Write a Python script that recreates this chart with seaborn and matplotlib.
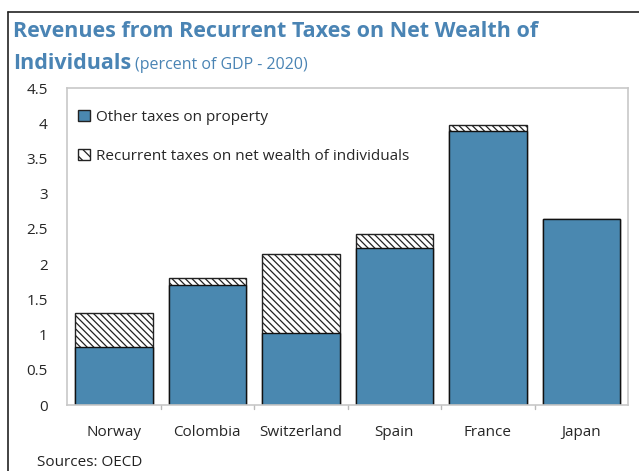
import matplotlib
matplotlib.use("Agg")
import matplotlib.pyplot as plt
import seaborn as sns
import pandas as pd
from matplotlib.patches import Patch
from matplotlib.lines import Line2D

# data (percent of GDP, 2020)
countries = ["Norway", "Colombia", "Switzerland", "Spain", "France", "Japan"]
other_taxes = [0.83, 1.71, 1.03, 2.23, 3.89, 2.64]
wealth_taxes = [0.47, 0.10, 1.12, 0.20, 0.09, 0.0]
yticks = [0, 0.5, 1, 1.5, 2, 2.5, 3, 3.5, 4, 4.5]

blue = "#4a88b0"
title_col = "#4a84b4"

df = pd.DataFrame({"country": countries, "other": other_taxes, "wealth": wealth_taxes})
df["total"] = df["other"] + df["wealth"]

sns.set_style("white")
plt.rcParams["font.family"] = ["Open Sans", "DejaVu Sans"]
plt.rcParams["hatch.linewidth"] = 0.9

fig = plt.figure(figsize=(6.39, 4.71), dpi=100)
ax = fig.add_axes([0.105, 0.140, 0.878, 0.673])

# stacked bars: hatched total behind, blue "other" in front
sns.barplot(data=df, x="country", y="total", color="white", edgecolor="#222222",
            linewidth=1.0, hatch="\\\\\\\\\\", width=0.83, ax=ax, saturation=1)
sns.barplot(data=df, x="country", y="other", color=blue, edgecolor="#111111",
            linewidth=1.0, width=0.83, ax=ax, saturation=1)

ax.set_ylim(0, 4.5)
ax.set_xlim(-0.5, 5.5)
ax.set_yticks(yticks)
ax.set_yticklabels([f"{t:g}" for t in yticks], fontsize=11)
ax.set_xlabel("")
ax.set_ylabel("")
ax.tick_params(axis="x", labelsize=11, length=0, pad=14)
ax.tick_params(axis="y", direction="in", length=5, color="#bbbbbb", width=1, pad=14)
for s in ax.spines.values():
    s.set_color("#c8c8c8")
    s.set_linewidth(1.2)
# small ticks between categories
for xb in [0.5, 1.5, 2.5, 3.5, 4.5]:
    ax.plot([xb, xb], [0, -0.06], color="#bbbbbb", lw=1, clip_on=False)

handles = [Patch(facecolor=blue, edgecolor="#222222", linewidth=1.0),
           Patch(facecolor="white", edgecolor="#222222", linewidth=1.0, hatch="\\\\\\")]
ax.legend(handles, ["Other taxes on property", "Recurrent taxes on net wealth of individuals"],
          loc="upper left", bbox_to_anchor=(-0.005, 0.975), frameon=False, fontsize=11,
          handlelength=0.8, handleheight=0.8, handletextpad=0.4, labelspacing=1.55)

fig.text(0.02, 0.922, "Revenues from Recurrent Taxes on Net Wealth of",
         fontsize=15.5, fontweight="bold", color=title_col, va="baseline")
fig.text(0.02, 0.854, "Individuals", fontsize=15.5, fontweight="bold",
             color=title_col, va="baseline")
fig.text(0.212, 0.854, "(percent of GDP - 2020)", fontsize=11.5, color=title_col, va="baseline")
fig.text(0.058, 0.018, "Sources: OECD", fontsize=11, color="#222222", va="center")

# frame lines on left and top of the figure
fig.add_artist(Line2D([0.013, 0.013], [0, 0.975], color="#222222", lw=1.2))
fig.add_artist(Line2D([0.013, 1.0], [0.975, 0.975], color="#222222", lw=1.2))

fig.savefig("out.png", dpi=100)
